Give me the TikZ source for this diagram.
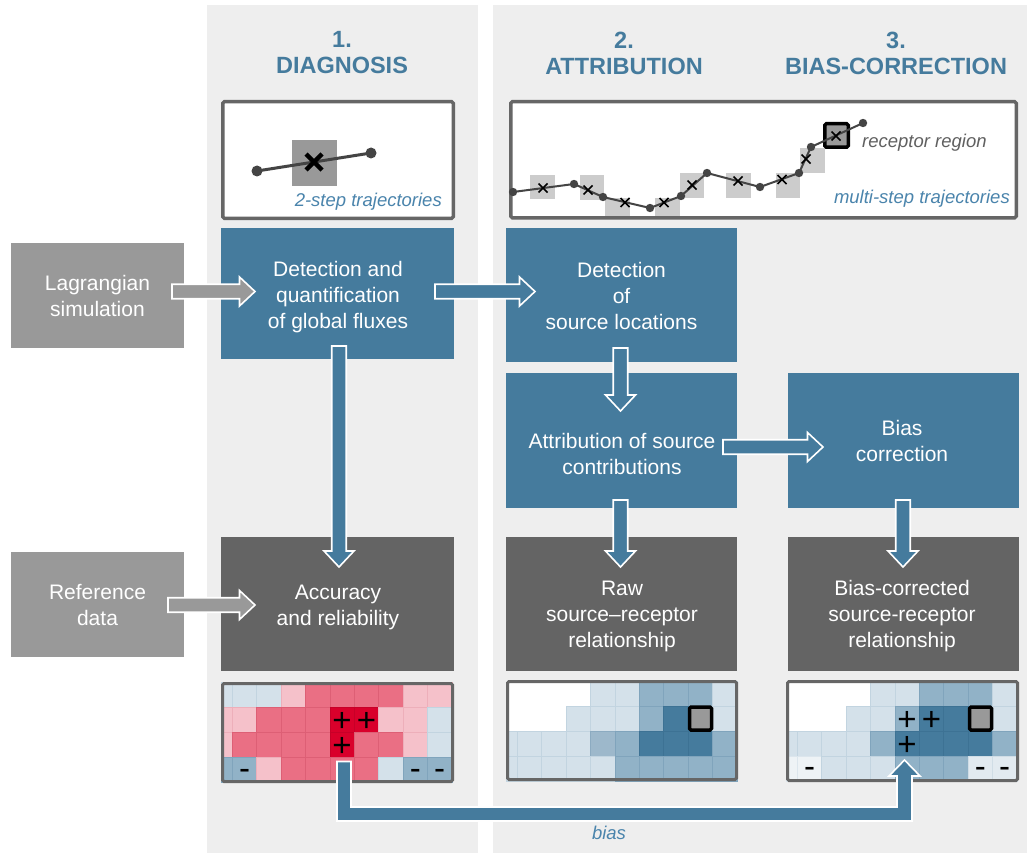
\documentclass[tikz,border=0pt]{standalone}
\usepackage{fontspec}
\setmainfont{Liberation Sans}
\usetikzlibrary{calc}
\definecolor{panelgray}{HTML}{EEEEEE}
\definecolor{boxblue}{HTML}{457B9D}
\definecolor{boxdark}{HTML}{646464}
\definecolor{boxlight}{HTML}{999999}
\definecolor{titleblue}{HTML}{457B9D}
\definecolor{labelblue}{HTML}{4A84AC}
\definecolor{framegray}{HTML}{666666}
\definecolor{labelgray}{HTML}{606060}
\definecolor{trajgray}{HTML}{444444}
\definecolor{cellgray}{HTML}{CCCCCC}
\definecolor{recgray}{HTML}{999999}
\definecolor{hmW}{HTML}{FFFFFF}\definecolor{hmWx}{HTML}{FFFFFF}
\definecolor{hmLB}{HTML}{D4E1EA}\definecolor{hmLBx}{HTML}{C2D4E0}
\definecolor{hmVL}{HTML}{EEF3F6}\definecolor{hmVLx}{HTML}{DCE6ED}
\definecolor{hmVM}{HTML}{E2EAF0}\definecolor{hmVMx}{HTML}{D0DDE6}
\definecolor{hmMB}{HTML}{91B2C7}\definecolor{hmMBx}{HTML}{80A4BC}
\definecolor{hmMC}{HTML}{9DB8CB}\definecolor{hmMCx}{HTML}{8CABC1}
\definecolor{hmDB}{HTML}{457B9D}\definecolor{hmDBx}{HTML}{3D7294}
\definecolor{hmLP}{HTML}{F5C1CA}\definecolor{hmLPx}{HTML}{EDAFBA}
\definecolor{hmMR}{HTML}{EA6F84}\definecolor{hmMRx}{HTML}{DD5F75}
\definecolor{hmDR}{HTML}{D9002B}\definecolor{hmDRx}{HTML}{C70028}

\tikzset{
  box/.style={rectangle, inner sep=0pt, outer sep=0pt, draw=none},
  bluebox/.style={box, fill=boxblue},
  darkbox/.style={box, fill=boxdark},
  lightbox/.style={box, fill=boxlight},
  boxtext/.style={text=white, align=center, font=\fontsize{21}{26}\selectfont, inner sep=0pt},
  header/.style={text=titleblue, align=center, font=\fontsize{23.5}{26}\selectfont\bfseries, inner sep=0pt},
  panelbox/.style={box, draw=framegray, line width=3.5pt, fill=white, rounded corners=1.5pt},
  hmframe/.style={box, draw=framegray, line width=3pt, rounded corners=1.5pt},
  italiclabel/.style={font=\fontsize{18.5}{22}\selectfont\itshape, inner sep=0pt},
  sign/.style={font=\fontsize{33}{33}\selectfont, inner sep=0pt, text=black, anchor=base},
  arrowbody/.style={draw=white, line width=1.6pt, line join=miter},
  traj/.style={draw=trajgray, line width=2pt},
  trajthick/.style={draw=trajgray, line width=3pt},
  xmark/.style={draw=black, line width=1.5pt},
  bigxmark/.style={draw=black, line width=4.5pt},
  receptor/.style={fill=recgray, draw=black, line width=3.5pt, rounded corners=1.5pt},
}

% heat-map row: #1 left, #2 top, #3 row index, #4 list of ten colours
\newcommand\hmrow[4]{%
  \foreach \cl [count=\k from 0] in {#4}{%
    \pgfmathsetmacro\xa{(\k==0) ? (#1) : (#1+11.3+24.4*(\k-1))}%
    \pgfmathsetmacro\xb{#1+11.3+24.4*\k}%
    \pgfmathsetmacro\ya{#2+25*#3}%
    \pgfmathsetmacro\yb{#2+25*#3+25}%
    \filldraw[fill=\cl, draw=\cl x, line width=0.6pt] (\xa,\ya) rectangle (\xb,\yb);
  }%
}
% block arrows between named coordinates
\newcommand\arrowR[3]{\filldraw[arrowbody, fill=#3] ($(#1)+(0,-7.25)$) -- ($(#2)+(-15.5,-7.25)$) -- ($(#2)+(-15.5,-14.5)$) -- (#2) -- ($(#2)+(-15.5,14.5)$) -- ($(#2)+(-15.5,7.25)$) -- ($(#1)+(0,7.25)$) -- cycle;}
\newcommand\arrowD[3]{\filldraw[arrowbody, fill=#3] ($(#1)+(-7.25,0)$) -- ($(#2)+(-7.25,-16)$) -- ($(#2)+(-15,-16)$) -- (#2) -- ($(#2)+(15,-16)$) -- ($(#2)+(7.25,-16)$) -- ($(#1)+(7.25,0)$) -- cycle;}

\begin{document}
\begin{tikzpicture}[x=1pt,y=-1pt]
\useasboundingbox (0,0) rectangle (1027,853);
\fill[white] (0,0) rectangle (1027,853);
\fill[panelgray] (207,5) rectangle (478,853);
\fill[panelgray] (493,5) rectangle (1027,853);

% headers
\node[header] (hd1) at (342,53) {1.\\DIAGNOSIS};
\node[header] (hd2) at (624,53) {2.\\ATTRIBUTION};
\node[header] (hd3) at (896,53) {3.\\BIAS-CORRECTION};

% top panels
\node[panelbox, minimum width=230.5pt, minimum height=116.5pt] (tp1) at (338,160) {};
\node[panelbox, minimum width=505.5pt, minimum height=116pt] (tp2) at (763.5,159.75) {};

% panel 1 content
\fill[recgray] (292,140) rectangle (337,186);
\draw[trajthick] (257,171) -- (371,153);
\fill[trajgray] (257,171) circle (5.5) (371,153) circle (5.5);
\draw[bigxmark] (306,154) -- (322,170) (306,170) -- (322,154);
\node[italiclabel, text=labelblue, anchor=base east] (lb1) at (442,206) {2-step trajectories};

% panel 2 content
\fill[cellgray] (530,175) rectangle (555,199);
\fill[cellgray] (580,175) rectangle (604,200);
\fill[cellgray] (605,198) rectangle (630,216);
\fill[cellgray] (655,198) rectangle (680,216);
\fill[cellgray] (680,173) rectangle (704,198);
\fill[cellgray] (726,173) rectangle (751,198);
\fill[cellgray] (776,173) rectangle (800,198);
\fill[cellgray] (800,148) rectangle (825,173);
\filldraw[receptor] (824.75,123.75) rectangle (848.25,147.25);
\draw[traj] (513,192) -- (574,184) -- (603,197) -- (650,208) -- (681,196) -- (707,173) -- (760,187) -- (799,173) -- (811,147) -- (863,123);
\foreach \px/\py in {543/188, 588/190, 625/202.5, 664/202.5, 692/185, 738/181, 782/179.5, 806/159, 836/136}{
  \draw[xmark] (\px-4.5,\py-4.5) -- (\px+4.5,\py+4.5) (\px-4.5,\py+4.5) -- (\px+4.5,\py-4.5);
}
\foreach \px/\py in {513/192, 574/184, 603/197, 650/208, 681/196, 707/173, 760/187, 799/173, 811/147, 863/123}{
  \fill[trajgray] (\px,\py) circle (4.2);
}
\node[italiclabel, text=labelgray, anchor=base west] (lb3) at (862,148) {receptor region};
\node[italiclabel, text=labelblue, anchor=base east] (lb2) at (1010,204) {multi-step trajectories};

% boxes
\node[lightbox, minimum width=173pt, minimum height=105pt] (lag) at (97.5,295.5) {};
\node[lightbox, minimum width=173pt, minimum height=105pt] (ref) at (97.5,604.5) {};
\node[bluebox, minimum width=233pt, minimum height=131pt] (det1) at (337.5,293.5) {};
\node[bluebox, minimum width=231pt, minimum height=134pt] (det2) at (621.5,295) {};
\node[bluebox, minimum width=231pt, minimum height=135pt] (att) at (621.5,440.5) {};
\node[bluebox, minimum width=231pt, minimum height=135pt] (bcor) at (903.5,440.5) {};
\node[darkbox, minimum width=233pt, minimum height=134pt] (acc) at (337.5,604) {};
\node[darkbox, minimum width=231pt, minimum height=134pt] (raw) at (621.5,604) {};
\node[darkbox, minimum width=231pt, minimum height=134pt] (bcr) at (903.5,604) {};

\node[boxtext] (tlag) at (lag.center) {Lagrangian\\simulation};
\node[boxtext] (tref) at (ref.center) {Reference\\data};
\node[boxtext] (tdet1) at ($(det1.center)+(0.5,3.5)$) {Detection and\\quantification\\of global fluxes};
\node[boxtext] (tdet2) at ($(det2.center)+(0,1)$) {Detection\\of\\source locations};
\node[boxtext] (tatt) at ($(att.center)+(0.5,13.5)$) {Attribution of source\\contributions};
\node[boxtext] (tbcor) at ($(bcor.center)+(-1.5,0.5)$) {Bias\\correction};
\node[boxtext] (tacc) at ($(acc.center)+(0.5,3)$) {Accuracy\\and reliability};
\node[boxtext] (traw) at ($(raw.center)+(0.5,12)$) {Raw\\source–receptor\\relationship};
\node[boxtext] (tbcr) at ($(bcr.center)+(-1.5,12)$) {Bias-corrected\\source-receptor\\relationship};

% heat map 1 (diagnosis)
\hmrow{221}{682.5}{0}{hmLB,hmLB,hmLB,hmLP,hmMR,hmMR,hmMR,hmMR,hmLP,hmLP}
\hmrow{221}{682.5}{1}{hmLP,hmLP,hmMR,hmMR,hmMR,hmDR,hmDR,hmLP,hmLP,hmLB}
\hmrow{221}{682.5}{2}{hmLP,hmMR,hmMR,hmMR,hmMR,hmDR,hmMR,hmMR,hmLP,hmLB}
\hmrow{221}{682.5}{3}{hmMB,hmMB,hmLP,hmMR,hmMR,hmMR,hmMR,hmLB,hmMB,hmMB}
% heat map 2 (raw)
\hmrow{506}{681}{0}{hmW,hmW,hmW,hmW,hmLB,hmLB,hmMB,hmMB,hmMB,hmLB}
\hmrow{506}{681}{1}{hmW,hmW,hmW,hmLB,hmLB,hmLB,hmMB,hmDB,hmDB,hmLB}
\hmrow{506}{681}{2}{hmLB,hmLB,hmLB,hmLB,hmMC,hmMB,hmDB,hmDB,hmDB,hmMB}
\hmrow{506}{681}{3}{hmLB,hmLB,hmLB,hmLB,hmLB,hmMB,hmMB,hmMB,hmMB,hmMB}
% heat map 3 (bias-corrected)
\hmrow{786}{681}{0}{hmW,hmW,hmW,hmW,hmLB,hmLB,hmMB,hmMB,hmMB,hmLB}
\hmrow{786}{681}{1}{hmW,hmW,hmW,hmLB,hmLB,hmMB,hmDB,hmDB,hmDB,hmLB}
\hmrow{786}{681}{2}{hmLB,hmLB,hmLB,hmLB,hmMB,hmDB,hmDB,hmDB,hmDB,hmMB}
\hmrow{786}{681}{3}{hmVL,hmVL,hmLB,hmLB,hmLB,hmMB,hmMB,hmMB,hmVM,hmVM}

\node[hmframe, minimum width=230pt, minimum height=98pt] (h1) at (337.5,732.5) {};
\node[hmframe, minimum width=229pt, minimum height=98pt] (h2) at (622,730.5) {};
\node[hmframe, minimum width=230pt, minimum height=99pt] (h3) at (902.5,731) {};

\filldraw[receptor] (689.5,707) rectangle (711.5,730);
\filldraw[receptor] (969.5,707) rectangle (991.5,730);

% signs
\node[sign] (s1) at (342.1,731.7) {+};
\node[sign] (s2) at (366.5,731.7) {+};
\node[sign] (s3) at (342.1,756.7) {+};
\node[sign] (s4) at (244.5,779) {-};
\node[sign] (s5) at (415.3,779) {-};
\node[sign] (s6) at (439.7,779) {-};
\node[sign] (s7) at (907.1,730.2) {+};
\node[sign] (s8) at (931.5,730.2) {+};
\node[sign] (s9) at (907.1,755.2) {+};
\node[sign] (s10) at (809.5,777.5) {-};
\node[sign] (s11) at (980.3,777.5) {-};
\node[sign] (s12) at (1004.7,777.5) {-};

% arrows
\coordinate (a1s) at ($(lag.east)+(-12,-4)$);
\coordinate (a1t) at ($(a1s -| det1.west)+(34,0)$);
\arrowR{a1s}{a1t}{boxlight}
\coordinate (a2s) at ($(det1.east)+(-19,-2)$);
\coordinate (a2t) at ($(a2s -| det2.west)+(29,0)$);
\arrowR{a2s}{a2t}{boxblue}
\coordinate (a3s) at ($(ref.east)+(-16,0.5)$);
\coordinate (a3t) at ($(a3s -| acc.west)+(34,0)$);
\arrowR{a3s}{a3t}{boxlight}
\coordinate (a6s) at ($(att.east)+(-14,6.5)$);
\coordinate (a6t) at ($(a6s -| bcor.west)+(35,0)$);
\arrowR{a6s}{a6t}{boxblue}
\coordinate (a4s) at ($(det1.south)+(1.5,-13)$);
\coordinate (a4t) at ($(a4s |- acc.north)+(0,30)$);
\arrowD{a4s}{a4t}{boxblue}
\coordinate (a5s) at ($(det2.south)+(-1,-14)$);
\coordinate (a5t) at ($(a5s |- att.north)+(0,38)$);
\arrowD{a5s}{a5t}{boxblue}
\coordinate (a7s) at ($(att.south)+(-1,-8)$);
\coordinate (a7t) at ($(a7s |- raw.north)+(0,30)$);
\arrowD{a7s}{a7t}{boxblue}
\coordinate (a8s) at ($(bcor.south)+(-0.5,-8)$);
\coordinate (a8t) at ($(a8s |- bcr.north)+(0,30)$);
\arrowD{a8s}{a8t}{boxblue}

% bias arrow from diagnosis map to corrected map
\coordinate (bs) at ($(h1.south)+(6.5,-20)$);
\coordinate (bt) at ($(h3.south)+(2,-20.5)$);
\coordinate (bc) at ($(h1.south)+(0,32.5)$);
\coordinate (bl) at (bs |- bc);
\coordinate (br) at (bt |- bc);
\filldraw[arrowbody, fill=boxblue] ($(bs)+(-7,0)$) -- ($(bl)+(-7,7)$) -- ($(br)+(7.5,7)$) -- ($(bt)+(7.5,16)$) -- ($(bt)+(15.5,16)$) -- (bt) -- ($(bt)+(-15.5,16)$) -- ($(bt)+(-7.5,16)$) -- ($(br)+(-7.5,-7)$) -- ($(bl)+(7,-7)$) -- ($(bs)+(7,0)$) -- cycle;
\node[italiclabel, text=labelblue, anchor=base] (lb4) at (609,839) {bias};
\end{tikzpicture}
\end{document}
